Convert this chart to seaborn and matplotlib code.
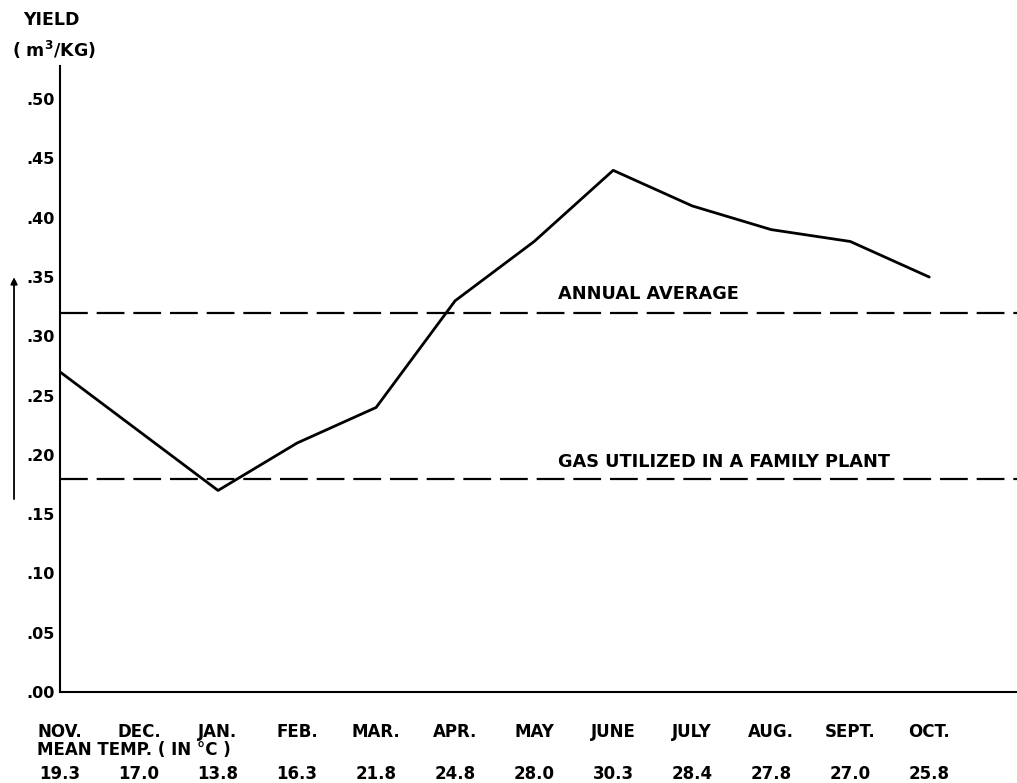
import numpy as np
import pandas as pd
import seaborn as sns
import matplotlib.pyplot as plt

# data
months = ['NOV.', 'DEC.', 'JAN.', 'FEB.', 'MAR.', 'APR.', 'MAY', 'JUNE', 'JULY', 'AUG.', 'SEPT.', 'OCT.']
yield_vals = [0.27, 0.22, 0.17, 0.21, 0.24, 0.33, 0.38, 0.44, 0.41, 0.39, 0.38, 0.35]
mean_temp = [19.3, 17.0, 13.8, 16.3, 21.8, 24.8, 28.0, 30.3, 28.4, 27.8, 27.0, 25.8]
annual_avg = 0.32
family_gas = 0.18
y_ticks = [0.00, 0.05, 0.10, 0.15, 0.20, 0.25, 0.30, 0.35, 0.40, 0.45, 0.50]

df = pd.DataFrame({'pos': np.arange(len(months)), 'month': months, 'yield': yield_vals})

sns.set_style("white")
plt.rcParams['font.family'] = ['DejaVu Sans']
plt.rcParams['text.color'] = 'black'
plt.rcParams['xtick.color'] = 'black'
plt.rcParams['ytick.color'] = 'black'
plt.rcParams['font.weight'] = 'bold'

fs = 12

fig = plt.figure(figsize=(10.17, 7.83), dpi=100)
ax = fig.add_axes([0.059, 0.1162, 0.941, 0.7995])

sns.lineplot(data=df, x='pos', y='yield', color='black', linewidth=2.0, ax=ax)

# reference lines
for val, label, off in [(annual_avg, 'ANNUAL AVERAGE', 0.008),
                        (family_gas, 'GAS UTILIZED IN A FAMILY PLANT', 0.006)]:
    ax.axhline(val, color='black', linewidth=1.6, dashes=(12.5, 4))
    ax.text(6.3, val + off, label, fontsize=12.8, va='bottom', ha='left')

ax.set_xlim(0, 12.11)
ax.set_ylim(0, 0.528)

ax.set_xticks(df['pos'])
ax.set_xticklabels(months, fontsize=fs)
ax.set_yticks(y_ticks)
ax.set_yticklabels([f"{v:.2f}"[1:] for v in y_ticks], fontsize=11.5)
ax.tick_params(axis='x', direction='in', length=3, width=1, pad=22)
ax.tick_params(axis='y', direction='out', length=3, width=1, pad=1)
ax.set_xlabel('')
ax.set_ylabel('')

sns.despine(ax=ax, top=True, right=True)
for s in ['left', 'bottom']:
    ax.spines[s].set_linewidth(1.5)
    ax.spines[s].set_color('black')

# mean temperature row
trans = ax.get_xaxis_transform()
ax.text(-0.29, -0.093, 'MEAN TEMP. ( IN °C )', fontsize=fs, ha='left', va='center',
        transform=trans, clip_on=False)
for x, t in zip(df['pos'], mean_temp):
    ax.text(x, -0.131, f"{t:.1f}", fontsize=fs, ha='center', va='center',
            transform=trans, clip_on=False)

# y axis title
fig.text(0.051, 0.974, 'YIELD', fontsize=12.5, ha='center', va='center')
fig.text(0.053, 0.936, '( m$^3$/KG)', fontsize=12.5, ha='center', va='center')

# upward arrow on the left
fig.add_artist(plt.annotate('', xy=(0.0138, 0.649), xytext=(0.0138, 0.359),
                            xycoords='figure fraction', textcoords='figure fraction',
                            arrowprops=dict(arrowstyle='-|>', color='black', lw=1.0,
                                            mutation_scale=10)))

plt.savefig('out.png', dpi=100)
